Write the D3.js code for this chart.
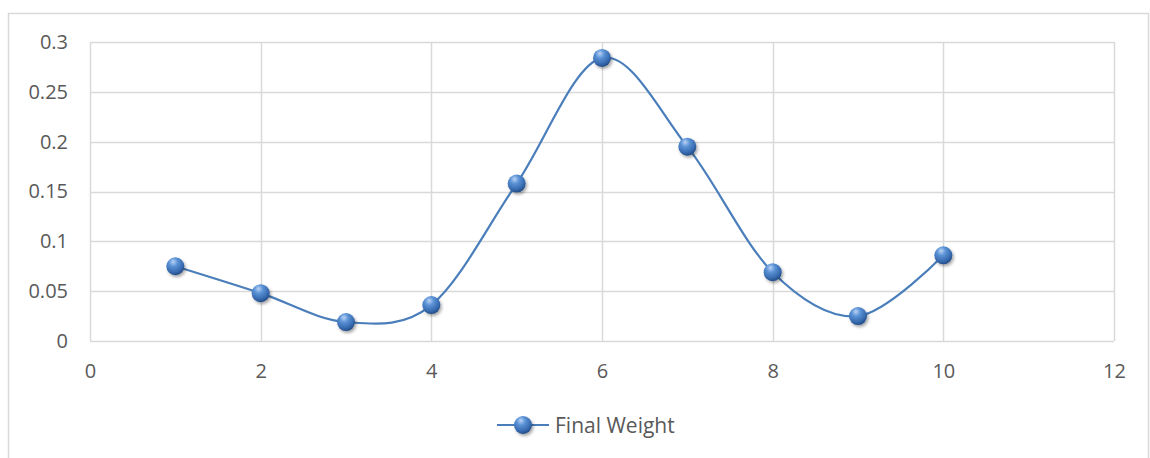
<!DOCTYPE html>
<html>
<head>
<meta charset="utf-8">
<script src="https://cdn.jsdelivr.net/npm/d3@7/dist/d3.min.js"></script>
<style>
  html, body { margin: 0; padding: 0; background: #fff; }
  svg { display: block; }
  text { font-family: "Open Sans", "Noto Sans", "Liberation Sans", sans-serif; fill: #595959; }
</style>
</head>
<body>
<svg id="chart" width="1150" height="458"></svg>
<script>
const xValues = [1, 2, 3, 4, 5, 6, 7, 8, 9, 10];
const weights = [0.075, 0.048, 0.019, 0.036, 0.158, 0.284, 0.195, 0.069, 0.025, 0.086];
const xTicks = [0, 2, 4, 6, 8, 10, 12];
const yTicks = [0, 0.05, 0.1, 0.15, 0.2, 0.25, 0.3];
const seriesName = "Final Weight";

const svg = d3.select("#chart");

// outer frame
svg.append("rect").attr("x", 8.5).attr("y", 13.5).attr("width", 1140).attr("height", 470)
  .attr("fill", "none").attr("stroke", "#d9d9d9").attr("stroke-width", 1.5);

const x = d3.scaleLinear().domain([0, 12]).range([90, 1114]);
const y = d3.scaleLinear().domain([0, 0.3]).range([341, 42]);

const defs = svg.append("defs");
const grad = defs.append("radialGradient").attr("id", "ball")
  .attr("cx", "40%").attr("cy", "30%").attr("r", "70%").attr("fx", "38%").attr("fy", "25%");
grad.append("stop").attr("offset", "0%").attr("stop-color", "#b9d3f5");
grad.append("stop").attr("offset", "35%").attr("stop-color", "#5b92d6");
grad.append("stop").attr("offset", "80%").attr("stop-color", "#3568ad");
grad.append("stop").attr("offset", "100%").attr("stop-color", "#234c85");
const shadow = defs.append("filter").attr("id", "shadow").attr("x", "-50%").attr("y", "-50%").attr("width", "200%").attr("height", "200%");
shadow.append("feDropShadow").attr("dx", 1.5).attr("dy", 2).attr("stdDeviation", 1.5)
  .attr("flood-color", "#000").attr("flood-opacity", 0.35);

// gridlines
const grid = svg.append("g");
grid.selectAll("line.h").data(yTicks).join("line")
  .attr("x1", x(0)).attr("x2", x(12))
  .attr("y1", d => Math.round(y(d)) + 0.5).attr("y2", d => Math.round(y(d)) + 0.5)
  .attr("stroke", "#d9d9d9").attr("stroke-width", 1.5);
grid.selectAll("line.v").data(xTicks).join("line")
  .attr("y1", y(0)).attr("y2", y(0.3))
  .attr("x1", d => Math.round(x(d)) + 0.5).attr("x2", d => Math.round(x(d)) + 0.5)
  .attr("stroke", "#d9d9d9").attr("stroke-width", 1.5);

// axes (labels only)
const yAxis = d3.axisLeft(y).tickValues(yTicks).tickSize(0).tickPadding(22).tickFormat(d => String(+d.toFixed(2)));
const gy = svg.append("g").attr("transform", `translate(${x(0)},0)`).call(yAxis);
gy.select(".domain").remove();
gy.selectAll("text").style("font-size", "20px").attr("fill", "#595959")
  .style("font-family", "\"Open Sans\", sans-serif");

const xAxis = d3.axisBottom(x).tickValues(xTicks).tickSize(0).tickPadding(23).tickFormat(d => String(d));
const gx = svg.append("g").attr("transform", `translate(0,${y(0)})`).call(xAxis);
gx.select(".domain").remove();
gx.selectAll("text").style("font-size", "20px").attr("fill", "#595959")
  .style("font-family", "\"Open Sans\", sans-serif");

// line
const data = xValues.map((v, i) => ({ x: v, y: weights[i] }));
const line = d3.line().x(d => x(d.x)).y(d => y(d.y)).curve(d3.curveCardinal.tension(0));
svg.append("path").datum(data).attr("d", line)
  .attr("fill", "none").attr("stroke", "#4a7ebb").attr("stroke-width", 2.2);

// markers
svg.append("g").selectAll("circle").data(data).join("circle")
  .attr("cx", d => x(d.x)).attr("cy", d => y(d.y)).attr("r", 9)
  .attr("fill", "url(#ball)").attr("filter", "url(#shadow)");

// legend
const lg = svg.append("g");
lg.append("line").attr("x1", 497).attr("x2", 549).attr("y1", 425).attr("y2", 425)
  .attr("stroke", "#4a7ebb").attr("stroke-width", 2.2);
lg.append("circle").attr("cx", 523).attr("cy", 425).attr("r", 9)
  .attr("fill", "url(#ball)").attr("filter", "url(#shadow)");
lg.append("text").attr("x", 555).attr("y", 433).style("font-size", "21px").text(seriesName);
</script>
</body>
</html>
